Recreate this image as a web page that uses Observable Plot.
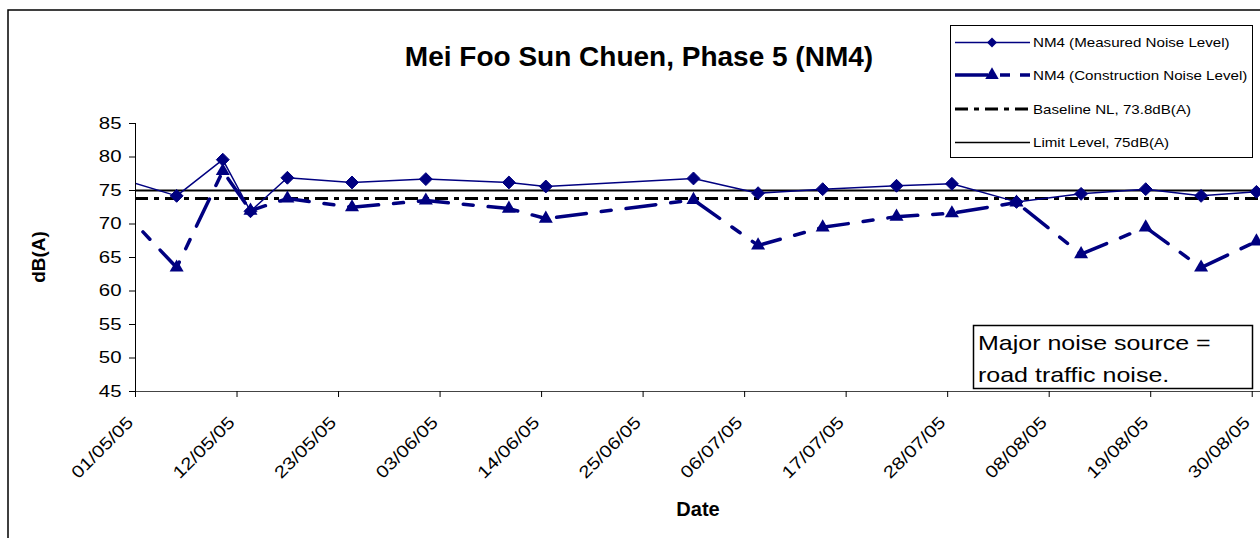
<!DOCTYPE html>
<html><head><meta charset="utf-8">
<script src="https://cdn.jsdelivr.net/npm/d3@7"></script>
<script src="https://cdn.jsdelivr.net/npm/@observablehq/plot@0.6"></script>
<style>body{margin:0;background:#fff} svg{display:block}</style>
</head><body><div id="chart"></div>
<script>
// ---- data ----
const sampleDates = ["2005-04-28T11:00","2005-05-05T11:00","2005-05-10T11:00","2005-05-13T11:00","2005-05-17T11:00","2005-05-24T11:00","2005-06-01T11:00","2005-06-10T11:00","2005-06-14T11:00","2005-06-30T11:00","2005-07-07T11:00","2005-07-14T11:00","2005-07-22T11:00","2005-07-28T11:00","2005-08-04T11:00","2005-08-11T11:00","2005-08-18T11:00","2005-08-24T11:00","2005-08-30T11:00"];
const measured =     [77.1, 74.2, 79.6, 71.9, 76.9, 76.2, 76.7, 76.2, 75.6, 76.8, 74.6, 75.2, 75.7, 76.0, 73.3, 74.5, 75.2, 74.2, 74.8];
const construction = [73.7, 63.5, 77.9, 72.0, 73.8, 72.5, 73.5, 72.3, 70.8, 73.6, 66.8, 69.5, 71.1, 71.6, 73.2, 65.5, 69.5, 63.5, 67.4];
const baselineNL = 73.8;
const limitLevel = 75;
const xTickLabels = ["01/05/05","12/05/05","23/05/05","03/06/05","14/06/05","25/06/05","06/07/05","17/07/05","28/07/05","08/08/05","19/08/05","30/08/05"];
const yTicks = [45,50,55,60,65,70,75,80,85];
const seriesNames = ["NM4 (Measured Noise Level)","NM4 (Construction Noise Level)","Baseline NL, 73.8dB(A)","Limit Level, 75dB(A)"];
const titleText = "Mei Foo Sun Chuen, Phase 5 (NM4)";
const noteLines = ["Major noise source =","road traffic noise."];

// ---- build ----
const parseISO = d3.utcParse("%Y-%m-%dT%H:%M");
const parseTick = d3.utcParse("%d/%m/%y");
const rows = sampleDates.map((d,i)=>({date: parseISO(d), measured: measured[i], construction: construction[i]}));
const xDomain = [parseTick(xTickLabels[0]), parseISO("2005-08-30T21:30")];
const inside = rows.filter(r => r.date >= xDomain[0]);
const xTickDates = xTickLabels.map(parseTick);
const navy = "#000080";
const font = "'Liberation Sans', Arial, sans-serif";

const chart = Plot.plot({
  width: 1260, height: 538,
  marginLeft: 135, marginRight: 0, marginTop: 123, marginBottom: 147,
  style: {fontFamily: font, fontSize: "17px", background: "#fff", color: "#000"},
  x: {type: "utc", domain: xDomain},
  y: {domain: [45, 85]},
  marks: [
    Plot.ruleY([limitLevel], {stroke: "#000", strokeWidth: 2}),
    Plot.ruleY([baselineNL], {stroke: "#000", strokeWidth: 3, strokeDasharray: "13,6,5,6"}),
    Plot.line(rows, {x: "date", y: "construction", stroke: navy, strokeWidth: 3.5, strokeDasharray: "30,15,10,15", clip: true}),
    Plot.line(rows, {x: "date", y: "measured", stroke: navy, strokeWidth: 1.5, clip: true}),
    Plot.dot(inside, {x: "date", y: "construction", symbol: "triangle", r: 5.2, fill: navy, stroke: null}),
    Plot.dot(inside, {x: "date", y: "measured", symbol: "diamond2", r: 5.8, fill: navy, stroke: navy, strokeWidth: 1}),
    Plot.ruleX([xDomain[0]], {stroke: "#000", strokeWidth: 1}),
    Plot.ruleY([45], {stroke: "#444", strokeWidth: 1.2}),
    Plot.axisY({ticks: yTicks, tickSize: 6, tickPadding: 8, label: null, fontSize: 17}),
    Plot.axisX({ticks: xTickDates, tickFormat: () => "", tickSize: 6, label: null}),
    Plot.axisX({ticks: xTickDates, tickFormat: d3.utcFormat("%d/%m/%y"), tickRotate: -45, tickSize: 0, tickPadding: 28, dx: -5, label: null, fontSize: 17})
  ]
});
document.getElementById("chart").append(chart);

const svg = d3.select(chart);
function stretch(sel, k){
  sel.each(function(){
    const L = this.getComputedTextLength();
    if (!L) return;
    this.setAttribute("textLength", L*k);
    this.setAttribute("lengthAdjust", "spacingAndGlyphs");
  });
}
stretch(svg.selectAll('g[aria-label="y-axis tick label"] text'), 1.2);
stretch(svg.selectAll('g[aria-label="x-axis tick label"] text'), 1.2);

// outer chart border
svg.append("path").attr("d","M8,538V10H1260").attr("fill","none").attr("stroke","#000").attr("stroke-width",1.5);
// title
svg.append("text").attr("x",639).attr("y",66).attr("text-anchor","middle")
  .attr("font-family",font).attr("font-weight","bold").attr("font-size",28).text(titleText);
// axis titles
svg.append("text").attr("transform","translate(45,257) rotate(-90)").attr("text-anchor","middle")
  .attr("font-family",font).attr("font-weight","bold").attr("font-size",19).text("dB(A)");
svg.append("text").attr("x",698).attr("y",516).attr("text-anchor","middle")
  .attr("font-family",font).attr("font-weight","bold").attr("font-size",20).text("Date");
// legend
const lg = svg.append("g");
lg.append("rect").attr("x",950.5).attr("y",25.5).attr("width",302).attr("height",132).attr("fill","#fff").attr("stroke","#000").attr("stroke-width",1);
const rowsY = [42.5, 75, 109, 142.5];
const styles = [
  {stroke: navy, w: 1.5, dash: null, sym: d3.symbolDiamond2, size: Math.PI*4.5*4.5},
  {stroke: navy, w: 3.5, dash: "33,12,10,10", sym: d3.symbolTriangle, size: Math.PI*5*5},
  {stroke: "#000", w: 3, dash: "13,6,5,6", sym: null},
  {stroke: "#000", w: 1.5, dash: null, sym: null}
];
styles.forEach((s,i)=>{
  const y = rowsY[i];
  const l = lg.append("line").attr("x1",955).attr("x2",1030).attr("y1",y).attr("y2",y).attr("stroke",s.stroke).attr("stroke-width",s.w);
  if (s.dash) l.attr("stroke-dasharray",s.dash);
  if (s.sym) lg.append("path").attr("d",d3.symbol(s.sym,s.size)()).attr("transform",`translate(992,${y})`).attr("fill",navy);
  lg.append("text").attr("class","lgtext").attr("x",1033).attr("y",y).attr("dy","0.36em").attr("text-anchor","start")
    .attr("font-family",font).attr("font-size",13.5).text(seriesNames[i]);
});
stretch(lg.selectAll("text.lgtext"), 1.12);
// note box
const nb = svg.append("g");
nb.append("rect").attr("x",973.5).attr("y",325.5).attr("width",279).attr("height",63).attr("fill","#fff").attr("stroke","#000").attr("stroke-width",1.5);
noteLines.forEach((t,i)=>nb.append("text").attr("class","nbtext").attr("x",978).attr("y",350+i*32).attr("text-anchor","start")
  .attr("font-family",font).attr("font-size",21).text(t));
stretch(nb.selectAll("text.nbtext"), 1.19);
</script>
</body></html>
